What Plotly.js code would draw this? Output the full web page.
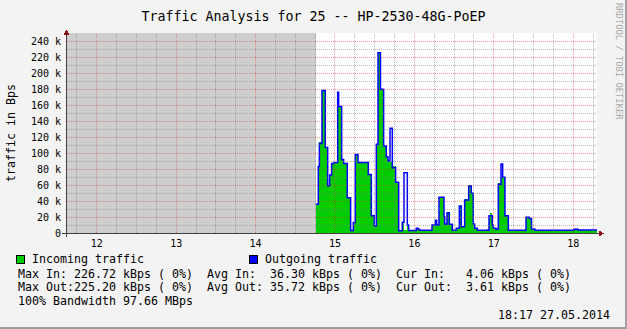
<!DOCTYPE html>
<html><head><meta charset="utf-8">
<script src="https://cdn.plot.ly/plotly-3.0.1.min.js"></script>
<style>
html,body{margin:0;padding:0;background:#f3f3f3;}
#wrap{position:relative;width:627px;height:329px;overflow:hidden;}
#chart{position:absolute;left:0;top:0;width:627px;height:329px;}
.edge-r{position:absolute;right:0;top:0;width:2px;height:329px;background:#a0a0a0;}
.edge-b{position:absolute;left:0;bottom:0;width:627px;height:2px;background:#a0a0a0;}
.shapelayer path{shape-rendering:crispEdges;}
.scatterlayer .js-fill{shape-rendering:crispEdges;}
</style></head><body>
<div id="wrap"><div id="chart"></div><div class="edge-r"></div><div class="edge-b"></div></div>
<script>
// ---- data (time in hours of day, traffic in kBps) ----
const timeHours = [14.757,14.790,14.803,14.836,14.878,14.908,14.933,14.958,14.987,15.034,
  15.046,15.084,15.109,15.155,15.197,15.231,15.256,15.290,15.420,15.458,
  15.495,15.521,15.542,15.573,15.613,15.646,15.668,15.693,15.722,15.764,
  15.802,15.848,15.869,15.911,15.928,16.024,16.045,16.066,16.222,16.264,
  16.281,16.310,16.373,16.382,16.411,16.440,16.478,16.528,16.566,16.591,
  16.633,16.684,16.717,16.742,16.759,16.793,16.910,16.940,16.952,16.981,
  16.994,17.028,17.057,17.091,17.112,17.141,17.183,17.406,17.448,17.475,
  17.517,18.010,18.060];
const incomingK = [36,83,114,178,107,59,72.5,87,88,159,
  159,92,88,44,3,13,98,88,73,21.7,
  8.7,110.8,226.72,180.5,109,95.4,90,89,84,63.3,
  3,13.3,4,10,3.5,5.8,4.6,4,10,16,
  10,44.6,20.4,11.25,25.4,10.8,4,5.8,33.75,7.9,
  43,60,49.6,11.25,5.8,4,5,21.7,24.6,10,
  6,4.6,62,70.4,69.6,21.7,4,19.6,18,5,
  4,4.6,4.06];
const outgoingK = [36,83,112,178,107,59,72.5,87,88,176,
  158,92,87,44,3,13,98,88,73,21.7,
  8.7,110.8,225.2,179.6,108.75,95.4,90,130.8,81.7,63.3,
  2.9,13.3,75.4,10,3,5.8,4.6,3.5,10,16,
  10,44.6,20.4,11.25,25.4,10.8,3.5,5.8,33.75,7.9,
  41.25,58.75,49.6,11.25,5.8,3.5,3.5,21.7,21.7,10,
  6,4.6,60.8,86.25,69.6,21.7,3.5,19.6,18,5,
  3.5,4.6,3.61];
const endHour = 18.30;
const startHour = 11.625;
const xTickVals = [12,13,14,15,16,17,18];
const xTickText = ['12','13','14','15','16','17','18'];
const yTickVals = [0,20,40,60,80,100,120,140,160,180,200,220,240];
const yTickText = ['0','20 k','40 k','60 k','80 k','100 k','120 k','140 k','160 k','180 k','200 k','220 k','240 k'];
const seriesNames = ['Incoming traffic','Outgoing traffic'];
const seriesColors = ['#00cc00','#0000ff'];
const statsRow1 = ['Max In: 226.72 kBps ( 0%)','Avg In:  36.30 kBps ( 0%)','Cur In:   4.06 kBps ( 0%)'];
const statsRow2 = ['Max Out:225.20 kBps ( 0%)','Avg Out: 35.72 kBps ( 0%)','Cur Out:  3.61 kBps ( 0%)'];
const bandwidthText = '100% Bandwidth 97.66 MBps';
const stampText = '18:17 27.05.2014';

// ---- geometry helpers ----
const W=627,H=329,L=67,R=30,T=33,B=96;
const PW=W-L-R, PH=H-T-B;
const X = px => (px-L)/PW;
const Y = py => (H-B-py)/PH;
const mono = 'DejaVu Sans Mono';
const nb = s => s.replace(/ /g,'\u00a0');

const xs = timeHours.concat([endHour]);
const inY = incomingK.concat([incomingK[incomingK.length-1]]);
const outY = outgoingK.concat([outgoingK[outgoingK.length-1]]);

const traces = [
  {x:xs, y:inY, type:'scatter', mode:'none', fill:'tozeroy', fillcolor:seriesColors[0],
   line:{shape:'hv', width:0}, name:seriesNames[0], hoverinfo:'skip'},
  {x:xs, y:outY, type:'scatter', mode:'lines', line:{shape:'hv', width:1.5, color:seriesColors[1]},
   name:seriesNames[1], hoverinfo:'skip'}
];

const shapes = [];
// unknown-data region
shapes.push({type:'rect', xref:'x', yref:'paper', x0:startHour, x1:timeHours[0], y0:0, y1:1,
  fillcolor:'#cecece', line:{width:0}, layer:'below'});
// grid (above data, like rrdtool)
const minorC='rgba(128,128,128,0.55)', majorC='rgba(225,50,50,0.48)';
for(let v=10; v<250; v+=10){
  const major = v%20===0;
  shapes.push({type:'line', xref:'paper', yref:'y', x0:0, x1:1, y0:v, y1:v,
    line:{color: major?majorC:minorC, width:1, dash:'1px,1px'}});
}
for(let q=Math.ceil(startHour*4); q/4<endHour; q++){
  const h=q/4, major = q%4===0;
  shapes.push({type:'line', xref:'x', yref:'paper', x0:h, x1:h, y0:0, y1:1,
    line:{color: major?majorC:minorC, width:1, dash:'1px,1px'}});
}
// axes lines + arrows
const axC='#404040', arC='#8b1010';
shapes.push({type:'line', xref:'paper', yref:'paper', x0:X(62), x1:X(599), y0:Y(233.5), y1:Y(233.5), line:{color:axC,width:1}});
shapes.push({type:'line', xref:'paper', yref:'paper', x0:X(66.5), x1:X(66.5), y0:Y(237), y1:Y(34), line:{color:axC,width:1}});
shapes.push({type:'path', xref:'paper', yref:'paper',
  path:`M${X(599)},${Y(230.5)} L${X(603.5)},${Y(233.5)} L${X(599)},${Y(236.5)} Z`, fillcolor:arC, line:{color:arC,width:0}});
shapes.push({type:'path', xref:'paper', yref:'paper',
  path:`M${X(63.5)},${Y(35)} L${X(66.5)},${Y(29.5)} L${X(69.5)},${Y(35)} Z`, fillcolor:arC, line:{color:arC,width:0}});
// legend swatches
[[16,seriesColors[0]],[249,seriesColors[1]]].forEach(([x0,c])=>{
  shapes.push({type:'rect', xref:'paper', yref:'paper', x0:X(x0), x1:X(x0+8), y0:Y(263), y1:Y(255),
    fillcolor:c, line:{color:'#000',width:1}});
});

const ann = [];
const addText=(txt,x,y,opts={})=>ann.push(Object.assign({text:nb(txt), xref:'paper', yref:'paper', x:X(x), y:Y(y),
  xanchor:'left', yanchor:'middle', showarrow:false, borderpad:0,
  font:{family:mono, size:11.63, color:'#000'}}, opts));
addText(seriesNames[0], 31, 259);
addText(seriesNames[1], 263.5, 259);
addText(statsRow1.join('  '), 16.8, 273.5);
addText(statsRow2.join('  '), 16.8, 287);
addText(bandwidthText, 16.8, 301);
addText(stampText, 611, 315.3, {xanchor:'right'});
addText('traffic in Bps', 11, 133, {xanchor:'center', textangle:-90});
addText('RRDTOOL / TOBI OETIKER', 619, 61, {xanchor:'center', textangle:90,
  font:{family:mono, size:8.8, color:'#a8a8a8'}});

const layout = {
  width:W, height:H, margin:{l:L,r:R,t:T,b:B,pad:0},
  paper_bgcolor:'#f3f3f3', plot_bgcolor:'#ffffff', showlegend:false,
  title:{text:'Traffic Analysis for 25 -- HP-2530-48G-PoEP',
    font:{family:mono, size:13.3, color:'#000'},
    x:0.5, xref:'container', xanchor:'center', y:1-16/H, yref:'container', yanchor:'middle'},
  xaxis:{range:[startHour,endHour], tickvals:xTickVals, ticktext:xTickText, showgrid:false,
    zeroline:false, showline:false, ticks:'', ticklabelstandoff:3,
    tickfont:{family:mono, size:10, color:'#000'}, fixedrange:true},
  yaxis:{range:[0,250], tickvals:yTickVals, ticktext:yTickText, showgrid:false,
    zeroline:false, showline:false, ticks:'', ticklabelstandoff:5,
    tickfont:{family:mono, size:10, color:'#000'}, fixedrange:true},
  shapes:shapes, annotations:ann
};
Plotly.newPlot('chart', traces, layout, {staticPlot:true, displayModeBar:false});
</script></body></html>
